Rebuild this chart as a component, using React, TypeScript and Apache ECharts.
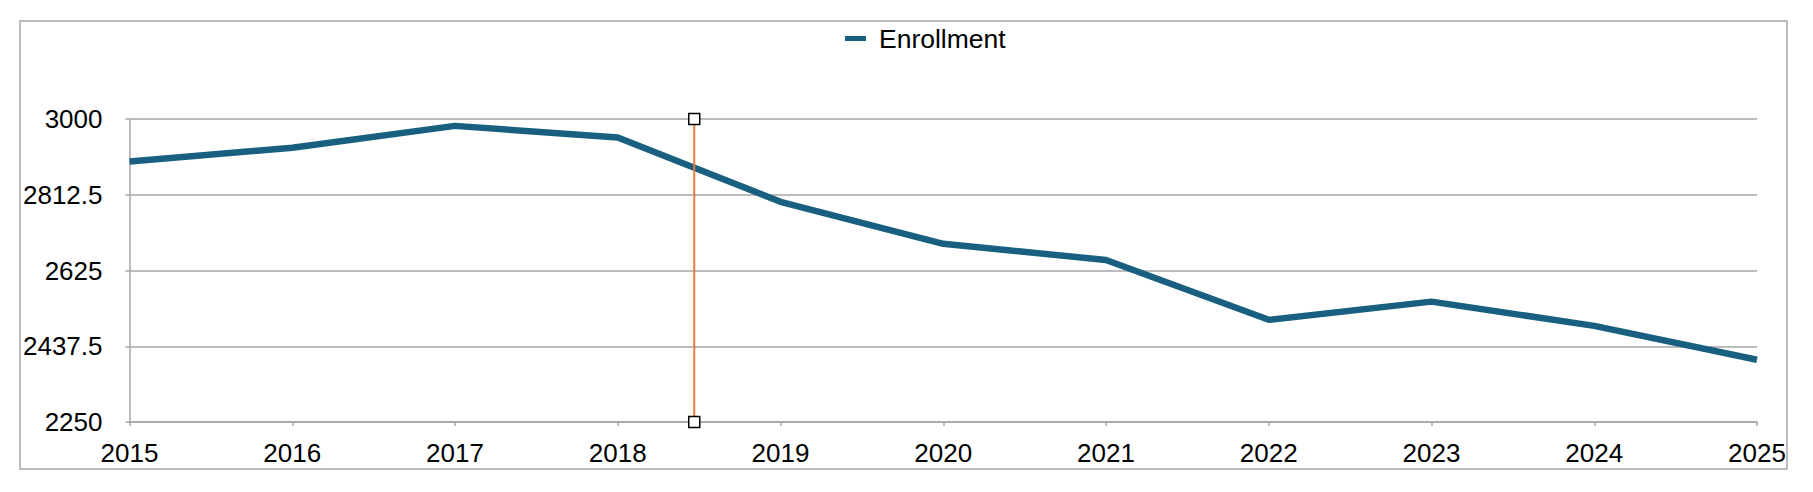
import React, { useEffect, useRef } from "react";
import * as echarts from "echarts";

const years = [2015, 2016, 2017, 2018, 2019, 2020, 2021, 2022, 2023, 2024, 2025];
const enrollment = [2895, 2929, 2983, 2954, 2795, 2691, 2651, 2503, 2548, 2488, 2404];
const markerYear = 2018.47;
const markerRange = [2250, 3000];
const seriesName = "Enrollment";

export default function App() {
  const ref = useRef<HTMLDivElement>(null);
  useEffect(() => {
    if (!ref.current) return;
    const chart = echarts.init(ref.current, undefined, { renderer: "svg" });
    const font = "'Liberation Sans', Arial, Helvetica, sans-serif";
    const grey = "#a6a6a6";
    chart.setOption({
      animation: false,
      backgroundColor: "#ffffff",
      textStyle: { fontFamily: font },
      graphic: [
        {
          type: "rect",
          shape: { x: 20, y: 21, width: 1767, height: 448 },
          style: { fill: "none", stroke: grey, lineWidth: 1.5 },
          silent: true,
          z: -1,
        },
      ],
      legend: {
        data: [seriesName],
        left: 845,
        top: 25,
        padding: 0,
        icon: "rect",
        itemWidth: 21,
        itemHeight: 5,
        textStyle: { fontSize: 26.5, color: "#000", fontFamily: font, padding: [0, 0, 0, 8] },
      },
      grid: { left: 129.5, right: 56, top: 119, bottom: 70, containLabel: false },
      xAxis: {
        type: "value",
        min: 2015,
        max: 2025,
        interval: 1,
        axisLine: { show: true, lineStyle: { color: grey, width: 1.5 } },
        axisTick: { show: true, length: 4, lineStyle: { color: grey, width: 1.5 } },
        splitLine: { show: false },
        axisLabel: {
          fontSize: 26,
          color: "#000",
          fontFamily: font,
          margin: 18,
          formatter: (v: number) => String(v),
        },
      },
      yAxis: {
        type: "value",
        min: 2250,
        max: 3000,
        interval: 187.5,
        axisLine: { show: true, lineStyle: { color: grey, width: 1.5 } },
        axisTick: { show: true, length: 4, lineStyle: { color: grey, width: 1.5 } },
        splitLine: { show: true, lineStyle: { color: grey, width: 1.5 } },
        axisLabel: {
          fontSize: 26,
          color: "#000",
          fontFamily: font,
          margin: 27,
          formatter: (v: number) => String(v),
        },
      },
      series: [
        {
          name: seriesName,
          type: "line",
          data: years.map((y, i) => [y, enrollment[i]]),
          showSymbol: false,
          symbol: "none",
          color: "#196080",
          lineStyle: { color: "#196080", width: 6.5 },
          z: 3,
        },
        {
          name: "marker",
          type: "line",
          data: markerRange.map((v) => [markerYear, v]),
          symbol: "rect",
          symbolSize: 11,
          showSymbol: true,
          lineStyle: { color: "#e97a3a", width: 2 },
          itemStyle: { color: "#ffffff", borderColor: "#000000", borderWidth: 1.5 },
          z: 4,
        },
      ],
    });
    return () => chart.dispose();
  }, []);
  return (
    <div
      ref={ref}
      style={{ position: "fixed", left: 0, top: 0, width: 1813, height: 492, background: "#fff" }}
    />
  );
}
